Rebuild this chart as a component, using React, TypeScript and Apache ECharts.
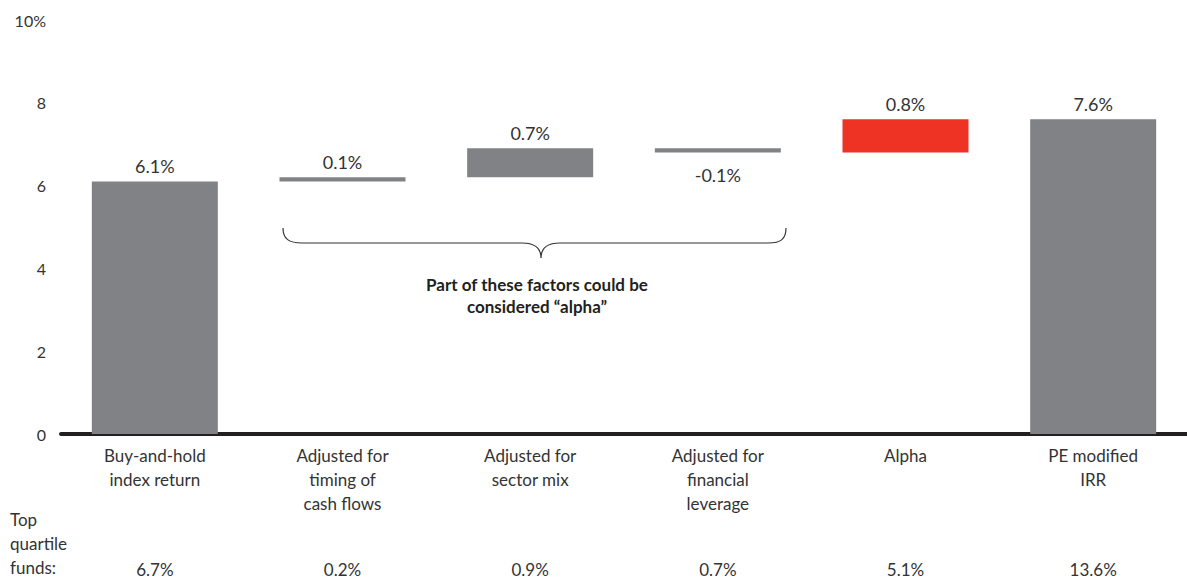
import React, { useEffect, useRef } from "react";
import * as echarts from "echarts";

const categories = [
  "Buy-and-hold\nindex return",
  "Adjusted for\ntiming of\ncash flows",
  "Adjusted for\nsector mix",
  "Adjusted for\nfinancial\nleverage",
  "Alpha",
  "PE modified\nIRR",
];
const changes = [6.1, 0.1, 0.7, -0.1, 0.8, 7.6];
const isTotal = [true, false, false, false, false, true];
const barColors = ["#818286", "#818286", "#818286", "#818286", "#EE3224", "#818286"];
const topQuartile = ["6.7%", "0.2%", "0.9%", "0.7%", "5.1%", "13.6%"];
const yTicks = [0, 2, 4, 6, 8, 10];

const FONT = "Lato, 'Noto Sans', sans-serif";

export default function App() {
  const ref = useRef<HTMLDivElement>(null);
  useEffect(() => {
    if (!ref.current) return;
    const braceD =
      "M283,228 C283,239 289,243 302,243 L522,243 C535,243 541,248 541,258 C541,248 547,243 560,243 L768,243 C781,243 786,239 786,228";
    echarts.graphic.registerShape("brace", echarts.graphic.extendPath(braceD, {}) as any);

    const bases: number[] = [];
    const heights: number[] = [];
    let running = 0;
    changes.forEach((c, i) => {
      if (isTotal[i]) {
        bases.push(0);
        heights.push(c);
        running = c;
      } else {
        const next = running + c;
        bases.push(Math.min(running, next));
        heights.push(Math.abs(c));
        running = next;
      }
    });

    const chart = echarts.init(ref.current, null, { renderer: "svg" });
    chart.setOption({
      animation: false,
      grid: { left: 61, right: -6, top: 20, bottom: 145, containLabel: false },
      xAxis: [
        {
          type: "category",
          data: categories,
          axisLine: { show: true, lineStyle: { color: "#231F20", width: 4 } },
          axisTick: { show: false },
          axisLabel: {
            color: "#333",
            fontSize: 17,
            fontFamily: FONT,
            lineHeight: 24,
            margin: 9,
            interval: 0,
          },
        },
        {
          type: "category",
          data: topQuartile,
          position: "bottom",
          offset: 122,
          axisLine: { show: false },
          axisTick: { show: false },
          axisLabel: {
            color: "#333",
            fontSize: 17,
            lineHeight: 17,
            fontFamily: FONT,
            margin: 5,
            interval: 0,
          },
        },
      ],
      yAxis: {
        type: "value",
        min: 0,
        max: 10,
        interval: 2,
        splitLine: { show: false },
        axisLine: { show: false },
        axisTick: { show: false },
        axisLabel: {
          color: "#333",
          fontSize: 16,
          fontFamily: FONT,
          margin: 15,
          formatter: (v: number) => (v === yTicks[yTicks.length - 1] ? v + "%" : String(v)),
        },
      },
      series: [
        {
          type: "bar",
          stack: "w",
          data: bases,
          barWidth: 126,
          itemStyle: { color: "transparent" },
          silent: true,
        },
        {
          type: "bar",
          stack: "w",
          barWidth: 126,
          data: heights.map((h, i) => ({
            value: h,
            itemStyle: { color: barColors[i] },
            label: {
              show: true,
              position: changes[i] < 0 ? "bottom" : "top",
              distance: changes[i] < 0 ? 14 : 6,
              formatter: changes[i].toFixed(1) + "%",
              color: "#333",
              fontSize: 18,
              fontFamily: FONT,
            },
          })),
        },
      ],
      graphic: [
        {
          type: "brace",
          x: 0,
          y: 0,
          style: { stroke: "#333", fill: "none", lineWidth: 1.2 },
        },
        {
          type: "text",
          x: 537,
          y: 273,
          style: {
            text: "Part of these factors could be\nconsidered \u201calpha\u201d",
            fill: "#231F20",
            font: "bold 17px " + FONT,
            lineHeight: 22,
            align: "center",
          },
        },
        {
          type: "text",
          x: 10,
          y: 507,
          style: {
            text: "Top\nquartile\nfunds:",
            fill: "#333",
            font: "17px " + FONT,
            lineHeight: 24,
            align: "left",
          },
        },
      ],
    });
    return () => chart.dispose();
  }, []);
  return (
    <div
      ref={ref}
      style={{ position: "absolute", left: 0, top: 0, width: 1187, height: 579 }}
    />
  );
}
